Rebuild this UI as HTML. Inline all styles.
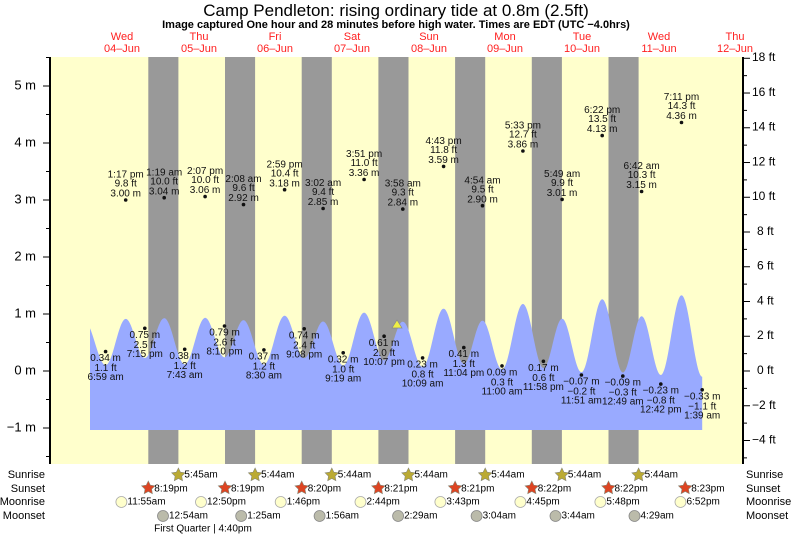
<!DOCTYPE html>
<html><head><meta charset="utf-8"><style>
html,body{margin:0;padding:0;background:#fff;}
svg{display:block;font-family:"Liberation Sans",sans-serif;}
</style></head><body>
<svg id="s" width="793" height="538" xmlns="http://www.w3.org/2000/svg">
<rect x="50" y="57" width="693" height="407" fill="#ffffcc"/>
<g fill="#999">
<rect x="148.3" y="57" width="30.1" height="407"/>
<rect x="225" y="57" width="30.1" height="407"/>
<rect x="301.7" y="57" width="30.1" height="407"/>
<rect x="378.4" y="57" width="30.1" height="407"/>
<rect x="455.1" y="57" width="30.1" height="407"/>
<rect x="531.8" y="57" width="30.1" height="407"/>
<rect x="608.5" y="57" width="30.1" height="407"/>
</g>
<path id="tide" fill="#99aaff" d=""/>
<g id="axes" stroke="#000" stroke-width="1"></g>
<line x1="50" y1="57" x2="50" y2="464" stroke="#000" stroke-width="2"/>
<line x1="743" y1="57" x2="743" y2="464" stroke="#000" stroke-width="2"/>
<g font-size="13" text-anchor="end" dominant-baseline="middle">
<text x="36" y="86">5 m</text><text x="36" y="143">4 m</text><text x="36" y="200">3 m</text>
<text x="36" y="257">2 m</text><text x="36" y="314">1 m</text><text x="36" y="371">0 m</text><text x="36" y="428">−1 m</text>
</g>
<g font-size="12" text-anchor="start" dominant-baseline="middle">
<text x="752" y="58">18 ft</text><text x="752" y="92.7">16 ft</text><text x="752" y="127.5">14 ft</text>
<text x="752" y="162.3">12 ft</text><text x="752" y="197">10 ft</text><text x="757" y="231.8">8 ft</text>
<text x="757" y="266.5">6 ft</text><text x="757" y="301.3">4 ft</text><text x="757" y="336">2 ft</text>
<text x="757" y="371">0 ft</text><text x="752" y="405.7">−2 ft</text><text x="752" y="440.5">−4 ft</text>
</g>
<text x="396" y="16" font-size="17" text-anchor="middle">Camp Pendleton: rising  ordinary tide at 0.8m (2.5ft)</text>
<text x="396" y="28" font-size="11" font-weight="bold" text-anchor="middle">Image captured One hour and 28 minutes before high water. Times are EDT (UTC −4.0hrs)</text>
<g font-size="11" fill="#ff2020" text-anchor="middle">
<text x="122" y="40">Wed</text><text x="122" y="52">04–Jun</text>
<text x="199" y="40">Thu</text><text x="199" y="52">05–Jun</text>
<text x="275" y="40">Fri</text><text x="275" y="52">06–Jun</text>
<text x="352" y="40">Sat</text><text x="352" y="52">07–Jun</text>
<text x="429" y="40">Sun</text><text x="429" y="52">08–Jun</text>
<text x="505" y="40">Mon</text><text x="505" y="52">09–Jun</text>
<text x="582" y="40">Tue</text><text x="582" y="52">10–Jun</text>
<text x="659" y="40">Wed</text><text x="659" y="52">11–Jun</text>
<text x="735" y="40">Thu</text><text x="735" y="52">12–Jun</text>
</g>
<polygon points="397,320 392,328 402,328" fill="#eeee44" stroke="#888" stroke-width="0.7"/>
<g id="lbl" font-size="10" text-anchor="middle" dominant-baseline="middle" fill="#111">
<circle cx="125.7" cy="200" r="1.8"/><text x="125.7" y="175">1:17 pm</text><text x="125.7" y="184">9.8 ft</text><text x="125.7" y="194">3.00 m</text>
<circle cx="164.2" cy="197.7" r="1.8"/><text x="164.2" y="172.7">1:19 am</text><text x="164.2" y="181.7">10.0 ft</text><text x="164.2" y="191.7">3.04 m</text>
<circle cx="205.1" cy="196.6" r="1.8"/><text x="205.1" y="171.6">2:07 pm</text><text x="205.1" y="180.6">10.0 ft</text><text x="205.1" y="190.6">3.06 m</text>
<circle cx="243.5" cy="204.6" r="1.8"/><text x="243.5" y="179.6">2:08 am</text><text x="243.5" y="188.6">9.6 ft</text><text x="243.5" y="198.6">2.92 m</text>
<circle cx="284.6" cy="189.7" r="1.8"/><text x="284.6" y="164.7">2:59 pm</text><text x="284.6" y="173.7">10.4 ft</text><text x="284.6" y="183.7">3.18 m</text>
<circle cx="323.1" cy="208.5" r="1.8"/><text x="323.1" y="183.5">3:02 am</text><text x="323.1" y="192.5">9.4 ft</text><text x="323.1" y="202.5">2.85 m</text>
<circle cx="364.1" cy="179.5" r="1.8"/><text x="364.1" y="154.5">3:51 pm</text><text x="364.1" y="163.5">11.0 ft</text><text x="364.1" y="173.5">3.36 m</text>
<circle cx="402.8" cy="209.1" r="1.8"/><text x="402.8" y="184.1">3:58 am</text><text x="402.8" y="193.1">9.3 ft</text><text x="402.8" y="203.1">2.84 m</text>
<circle cx="443.6" cy="166.4" r="1.8"/><text x="443.6" y="141.4">4:43 pm</text><text x="443.6" y="150.4">11.8 ft</text><text x="443.6" y="160.4">3.59 m</text>
<circle cx="482.5" cy="205.7" r="1.8"/><text x="482.5" y="180.7">4:54 am</text><text x="482.5" y="189.7">9.5 ft</text><text x="482.5" y="199.7">2.90 m</text>
<circle cx="522.9" cy="151" r="1.8"/><text x="522.9" y="126">5:33 pm</text><text x="522.9" y="135">12.7 ft</text><text x="522.9" y="145">3.86 m</text>
<circle cx="562.1" cy="199.4" r="1.8"/><text x="562.1" y="174.4">5:49 am</text><text x="562.1" y="183.4">9.9 ft</text><text x="562.1" y="193.4">3.01 m</text>
<circle cx="602.2" cy="135.6" r="1.8"/><text x="602.2" y="110.6">6:22 pm</text><text x="602.2" y="119.6">13.5 ft</text><text x="602.2" y="129.6">4.13 m</text>
<circle cx="641.6" cy="191.5" r="1.8"/><text x="641.6" y="166.5">6:42 am</text><text x="641.6" y="175.5">10.3 ft</text><text x="641.6" y="185.5">3.15 m</text>
<circle cx="681.5" cy="122.5" r="1.8"/><text x="681.5" y="97.5">7:11 pm</text><text x="681.5" y="106.5">14.3 ft</text><text x="681.5" y="116.5">4.36 m</text>
<circle cx="105.6" cy="351.6" r="1.8"/><text x="105.6" y="358.6">0.34 m</text><text x="105.6" y="368.6">1.1 ft</text><text x="105.6" y="377.6">6:59 am</text>
<circle cx="144.8" cy="328.3" r="1.8"/><text x="144.8" y="335.3">0.75 m</text><text x="144.8" y="345.3">2.5 ft</text><text x="144.8" y="354.3">7:15 pm</text>
<circle cx="184.7" cy="349.3" r="1.8"/><text x="184.7" y="356.3">0.38 m</text><text x="184.7" y="366.3">1.2 ft</text><text x="184.7" y="375.3">7:43 am</text>
<circle cx="224.5" cy="326" r="1.8"/><text x="224.5" y="333">0.79 m</text><text x="224.5" y="343">2.6 ft</text><text x="224.5" y="352">8:10 pm</text>
<circle cx="263.9" cy="349.9" r="1.8"/><text x="263.9" y="356.9">0.37 m</text><text x="263.9" y="366.9">1.2 ft</text><text x="263.9" y="375.9">8:30 am</text>
<circle cx="304.2" cy="328.8" r="1.8"/><text x="304.2" y="335.8">0.74 m</text><text x="304.2" y="345.8">2.4 ft</text><text x="304.2" y="354.8">9:08 pm</text>
<circle cx="343.2" cy="352.8" r="1.8"/><text x="343.2" y="359.8">0.32 m</text><text x="343.2" y="369.8">1.0 ft</text><text x="343.2" y="378.8">9:19 am</text>
<circle cx="384.1" cy="336.2" r="1.8"/><text x="384.1" y="343.2">0.61 m</text><text x="384.1" y="353.2">2.0 ft</text><text x="384.1" y="362.2">10:07 pm</text>
<circle cx="422.6" cy="357.9" r="1.8"/><text x="422.6" y="364.9">0.23 m</text><text x="422.6" y="374.9">0.8 ft</text><text x="422.6" y="383.9">10:09 am</text>
<circle cx="463.8" cy="347.6" r="1.8"/><text x="463.8" y="354.6">0.41 m</text><text x="463.8" y="364.6">1.3 ft</text><text x="463.8" y="373.6">11:04 pm</text>
<circle cx="502" cy="365.9" r="1.8"/><text x="502" y="372.9">0.09 m</text><text x="502" y="382.9">0.3 ft</text><text x="502" y="391.9">11:00 am</text>
<circle cx="543.4" cy="361.3" r="1.8"/><text x="543.4" y="368.3">0.17 m</text><text x="543.4" y="378.3">0.6 ft</text><text x="543.4" y="387.3">11:58 pm</text>
<circle cx="581.4" cy="375" r="1.8"/><text x="581.4" y="382">−0.07 m</text><text x="581.4" y="392">−0.2 ft</text><text x="581.4" y="401">11:51 am</text>
<circle cx="622.8" cy="376.1" r="1.8"/><text x="622.8" y="383.1">−0.09 m</text><text x="622.8" y="393.1">−0.3 ft</text><text x="622.8" y="402.1">12:49 am</text>
<circle cx="660.8" cy="384.1" r="1.8"/><text x="660.8" y="391.1">−0.23 m</text><text x="660.8" y="401.1">−0.8 ft</text><text x="660.8" y="410.1">12:42 pm</text>
<circle cx="702.2" cy="389.8" r="1.8"/><text x="702.2" y="396.8">−0.33 m</text><text x="702.2" y="406.8">−1.1 ft</text><text x="702.2" y="415.8">1:39 am</text>
</g>
<g font-size="11" dominant-baseline="middle">
<text x="45" y="475" text-anchor="end">Sunrise</text><text x="45" y="489" text-anchor="end">Sunset</text>
<text x="45" y="502" text-anchor="end">Moonrise</text><text x="45" y="516" text-anchor="end">Moonset</text>
<text x="746" y="475">Sunrise</text><text x="746" y="489">Sunset</text>
<text x="746" y="502">Moonrise</text><text x="746" y="516">Moonset</text>
</g>
<g id="icons"></g>
<g font-size="10" dominant-baseline="middle">
<text x="184.4" y="475">5:45am</text><text x="261.1" y="475">5:44am</text><text x="337.8" y="475">5:44am</text><text x="414.5" y="475">5:44am</text><text x="491.2" y="475">5:44am</text><text x="567.9" y="475">5:44am</text><text x="644.6" y="475">5:44am</text>
<text x="154.3" y="489">8:19pm</text><text x="231" y="489">8:19pm</text><text x="307.7" y="489">8:20pm</text><text x="384.4" y="489">8:21pm</text><text x="461.1" y="489">8:21pm</text><text x="537.8" y="489">8:22pm</text><text x="614.5" y="489">8:22pm</text><text x="691.2" y="489">8:23pm</text>
<text x="127.4" y="502">11:55am</text><text x="207" y="502">12:50pm</text><text x="286.7" y="502">1:46pm</text><text x="366.5" y="502">2:44pm</text><text x="446.4" y="502">3:43pm</text><text x="526.4" y="502">4:45pm</text><text x="606.4" y="502">5:48pm</text><text x="686.5" y="502">6:52pm</text>
<text x="169" y="516">12:54am</text><text x="247.2" y="516">1:25am</text><text x="325.6" y="516">1:56am</text><text x="404.1" y="516">2:29am</text><text x="482.6" y="516">3:04am</text><text x="561.5" y="516">3:44am</text><text x="640.5" y="516">4:29am</text>
<text x="203" y="529" text-anchor="middle">First Quarter | 4:40pm</text>
</g>
</svg>
<script>
(function(){
function Y(m){return 371-57*m;}
var ex=[[0.4,2.85],[6.98,0.34],[13.28,3.00],[19.25,0.75],[25.32,3.04],[31.72,0.38],[38.12,3.06],[44.17,0.79],[50.13,2.92],[56.5,0.37],[62.98,3.18],[69.13,0.74],[75.03,2.85],[81.32,0.32],[87.85,3.36],[94.12,0.61],[99.97,2.84],[106.15,0.23],[112.72,3.59],[119.07,0.41],[124.9,2.90],[131,0.09],[137.55,3.86],[143.97,0.17],[149.82,3.01],[155.85,-0.07],[162.37,4.13],[168.82,-0.09],[174.7,3.15],[180.7,-0.23],[187.18,4.36],[193.65,-0.33]];
function val(h){for(var i=0;i<ex.length-1;i++){var a=ex[i],b=ex[i+1];if(h>=a[0]&&h<=b[0]){var f=(h-a[0])/(b[0]-a[0]);return a[1]+(b[1]-a[1])*(1-Math.cos(Math.PI*f))/2;}}return ex[ex.length-1][1];}
var x0=90,x1=702.2,d="M"+x0+",430";
for(var x=x0;x<=x1;x+=1){var h=(x-83.3)/3.196;d+=" L"+x.toFixed(1)+","+Y(val(h)*0.3048).toFixed(1);}
d+=" L"+x1+","+Y(val((x1-83.3)/3.196)*0.3048).toFixed(1)+" L"+x1+",430 Z";
document.getElementById("tide").setAttribute("d",d);
var ax=document.getElementById("axes"),s="";
for(var m=-1.5;m<=5.5;m+=0.5){var y=Y(m);var L=(Math.abs(m-Math.round(m))<0.01)?7:4;s+='<line x1="'+(50-L)+'" y1="'+y+'" x2="50" y2="'+y+'"/>';}
for(var f=-5;f<=18;f++){var y=371-57*f*0.3048;var L=(f%2==0)?7:4;s+='<line x1="743" y1="'+y+'" x2="'+(743+L)+'" y2="'+y+'"/>';}
ax.innerHTML=s;
function star(cx,cy,r,fill){var p=[];for(var i=0;i<10;i++){var a=-Math.PI/2+i*Math.PI/5;var rr=i%2?r*0.5:r;p.push((cx+rr*Math.cos(a)).toFixed(1)+","+(cy+rr*Math.sin(a)).toFixed(1));}return '<polygon points="'+p.join(" ")+'" fill="'+fill+'" stroke="#887" stroke-width="0.6"/>';}
var ic="";
for(var k=0;k<7;k++)ic+=star(178.4+76.7*k,475,7,"#bbaa33");
for(var k=0;k<8;k++)ic+=star(148.3+76.7*k,488,7,"#dd4422");
[121.4,201,280.7,360.5,440.4,520.4,600.4,680.5].forEach(function(x){ic+='<circle cx="'+x+'" cy="502" r="5.5" fill="#ffffcc" stroke="#aaa" stroke-width="0.8"/>';});
[163,241.2,319.6,398.1,476.6,555.5,634.5].forEach(function(x){ic+='<circle cx="'+x+'" cy="516" r="5.5" fill="#bbbbaa" stroke="#888" stroke-width="0.8"/>';});
document.getElementById("icons").innerHTML=ic;
})();
</script>
</body></html>
